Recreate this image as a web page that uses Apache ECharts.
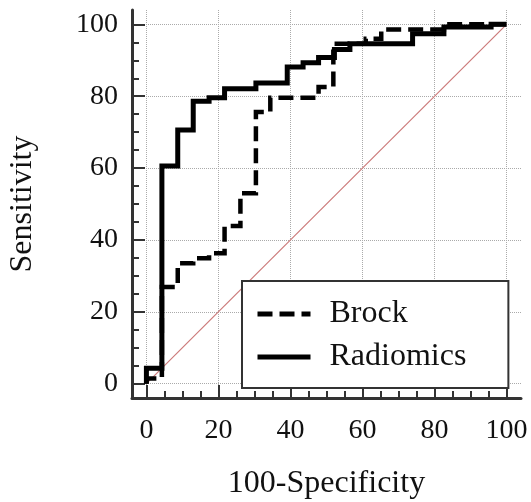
<!DOCTYPE html>
<html><head><meta charset="utf-8">
<script src="https://cdn.jsdelivr.net/npm/echarts@6/dist/echarts.min.js"></script>
<style>html,body{margin:0;padding:0;background:#fff}#c{width:531px;height:502px}</style>
</head><body><div id="c"></div>
<script>
const majorTicks = [0, 20, 40, 60, 80, 100];
const minorTicks = [5, 10, 15, 25, 30, 35, 45, 50, 55, 65, 70, 75, 85, 90, 95];
const seriesNames = ['Brock', 'Radiomics'];

const brockX = [0, 0, 4.3, 4.3, 8.7, 8.7, 13.0, 13.0, 17.4, 17.4, 21.7, 21.7, 26.1, 26.1, 30.4, 30.4, 34.4, 34.4, 47.8, 47.8, 51.9, 51.9, 60.9, 60.9, 65.2, 65.2, 82.6, 82.6, 100];
const brockY = [0, 1.4, 1.4, 26.9, 26.9, 33.5, 33.5, 34.9, 34.9, 36.3, 36.3, 43.9, 43.9, 53.0, 53.0, 75.6, 75.6, 79.6, 79.6, 82.6, 82.6, 94.6, 94.6, 96.0, 96.0, 98.6, 98.6, 100, 100];

const radiomicsX = [0, 0, 4.3, 4.3, 8.7, 8.7, 13.0, 13.0, 17.4, 17.4, 21.7, 21.7, 30.4, 30.4, 39.1, 39.1, 43.5, 43.5, 47.8, 47.8, 52.2, 52.2, 56.5, 56.5, 73.9, 73.9, 82.6, 82.6, 95.7, 95.7, 100];
const radiomicsY = [0, 4.3, 4.3, 60.6, 60.6, 70.6, 70.6, 78.6, 78.6, 79.6, 79.6, 82.1, 82.1, 83.7, 83.7, 88.1, 88.1, 89.3, 89.3, 90.8, 90.8, 93.0, 93.0, 94.6, 94.6, 97.4, 97.4, 99.3, 99.3, 100, 100];

const refX = [0, 100];
const refY = [0, 100];

const zip = (a, b) => a.map((v, i) => [v, b[i]]);
const FONT = 'Liberation Serif';
const AX = '#333';

function mainAxis(name, nameGap, isX) {
  return {
    type: 'value', min: -4, max: 104,
    position: isX ? 'bottom' : 'left',
    name: name, nameLocation: 'middle', nameGap: nameGap,
    nameTextStyle: { fontFamily: FONT, fontSize: 32, color: '#111' },
    axisLine: { show: true, onZero: false, lineStyle: { color: AX, width: 3 } },
    axisTick: { show: true, inside: true, length: 13, customValues: majorTicks, lineStyle: { color: AX, width: 2 } },
    axisLabel: { show: true, customValues: majorTicks, fontFamily: FONT, fontSize: 28, color: '#111', margin: isX ? 19 : 14 },
    splitLine: { show: true, lineStyle: { color: '#aaa', type: 'dotted', width: 1 } }
  };
}
function minorAxis(isX) {
  return {
    type: 'value', min: -4, max: 104,
    position: isX ? 'bottom' : 'left',
    axisLine: { show: false, onZero: false },
    axisTick: { show: true, inside: true, length: 7, customValues: minorTicks, lineStyle: { color: AX, width: 2 } },
    axisLabel: { show: false },
    splitLine: { show: false }
  };
}

const chart = echarts.init(document.getElementById('c'), null, { renderer: 'canvas' });
chart.setOption({
  animation: false,
  backgroundColor: '#fff',
  grid: { left: 132, right: 10, top: 10, bottom: 104, containLabel: false, outerBoundsMode: 'none' },
  xAxis: [mainAxis('100-Specificity', 70, true), minorAxis(true)],
  yAxis: [mainAxis('Sensitivity', 93, false), minorAxis(false)],
  legend: {
    data: seriesNames,
    orient: 'vertical',
    left: 242, top: 281,
    itemWidth: 53, itemHeight: 14, itemGap: 11,
    padding: [17, 42, 15, 13],
    borderColor: AX, borderWidth: 2, borderRadius: 0,
    backgroundColor: '#fff',
    itemStyle: { opacity: 0, borderWidth: 0 },
    lineStyle: { width: 5, color: '#000' },
    textStyle: { fontFamily: FONT, fontSize: 32, color: '#111', lineHeight: 30, padding: [0, 0, 0, 14] }
  },
  series: [
    {
      name: 'reference', type: 'line', data: zip(refX, refY), symbol: 'none', silent: true, z: 1,
      lineStyle: { color: '#cc7a7a', width: 1.2 }
    },
    {
      name: seriesNames[0], type: 'line', data: zip(brockX, brockY), symbol: 'none', z: 3,
      color: '#000',
      lineStyle: { color: '#000', width: 4.5, type: [15, 7], cap: 'butt', join: 'miter' }
    },
    {
      name: seriesNames[1], type: 'line', data: zip(radiomicsX, radiomicsY), symbol: 'none', z: 3,
      color: '#000',
      lineStyle: { color: '#000', width: 5, cap: 'butt', join: 'miter' }
    }
  ]
});
</script></body></html>
